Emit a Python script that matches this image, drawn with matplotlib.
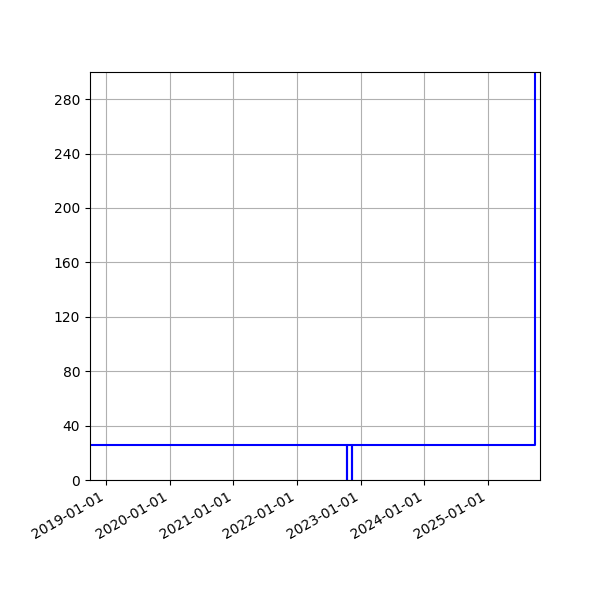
import numpy as np
import matplotlib
matplotlib.use('Agg')
import matplotlib.pyplot as plt
import matplotlib.dates as mdates

# step points (two one-day drops to zero in late 2022)
dates = np.array(['2018-09-01', '2022-10-14', '2022-10-15', '2022-11-12', '2022-11-13', '2025-09-27'],
                 dtype='datetime64[D]')
values = [26, 0, 26, 0, 26, 320]

fig = plt.figure(figsize=(6, 6), dpi=100)
ax = fig.add_axes([0.15, 0.2, 0.75, 0.68])
ax.step(dates, values, where='post', color='blue', linewidth=1.5)

ax.set_xlim(np.datetime64('2018-10-01'), np.datetime64('2025-10-25'))
ax.set_ylim(0, 300)
ax.set_yticks(np.arange(0, 281, 40))
ax.xaxis.set_major_locator(mdates.YearLocator())
ax.xaxis.set_major_formatter(mdates.DateFormatter('%Y-%m-%d'))
ax.grid(True)
plt.setp(ax.get_xticklabels(), rotation=30, ha='right')

fig.savefig('out.png')
